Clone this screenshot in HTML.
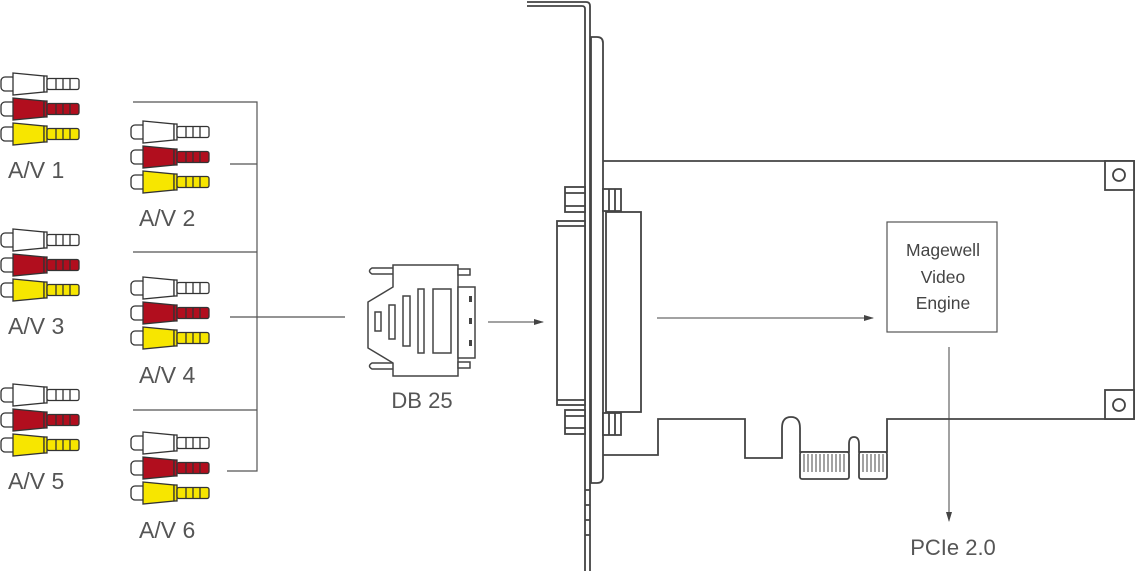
<!DOCTYPE html>
<html><head><meta charset="utf-8"><style>
html,body{margin:0;padding:0;background:#fff;}
svg{display:block;font-family:"Liberation Sans",sans-serif;}
</style></head><body>
<svg width="1135" height="571" viewBox="0 0 1135 571" xmlns="http://www.w3.org/2000/svg">
<defs>
<g id="plug" stroke="#333" stroke-width="1.3">
 <rect x="1" y="-7" width="15" height="14" rx="4" fill="#fff"/>
 <polygon points="13,-11 44,-8 44,8 13,11"/>
 <rect x="44" y="-8" width="3" height="16"/>
 <rect x="47" y="-5.5" width="32" height="11" rx="2"/>
 <path d="M56,-5.5V5.5M63,-5.5V5.5M70,-5.5V5.5" fill="none"/>
</g>
<g id="trio">
 <use href="#plug" y="0" fill="#fff"/>
 <use href="#plug" y="25" fill="#b10e1e"/>
 <use href="#plug" y="50" fill="#f7e600"/>
</g>
<marker id="ah" markerWidth="10" markerHeight="8" refX="9" refY="4" orient="auto" markerUnits="userSpaceOnUse"><path d="M0,1 L10,4 L0,7z" fill="#444"/></marker>
</defs>

<use href="#trio" x="0" y="84"/>
<use href="#trio" x="0" y="240"/>
<use href="#trio" x="0" y="395"/>
<use href="#trio" x="130" y="132"/>
<use href="#trio" x="130" y="288"/>
<use href="#trio" x="130" y="443"/>

<g fill="#555" font-size="23">
<text x="8" y="178">A/V 1</text>
<text x="8" y="334">A/V 3</text>
<text x="8" y="489">A/V 5</text>
<text x="139" y="226">A/V 2</text>
<text x="139" y="383">A/V 4</text>
<text x="139" y="538">A/V 6</text>
</g>

<g stroke="#555" stroke-width="1.2" fill="none">
<path d="M133,102H257V471H227"/>
<path d="M133,252H257"/>
<path d="M133,410H257"/>
<path d="M230,164H257"/>
<path d="M230,317H345"/>
</g>

<g stroke="#444" stroke-width="1.5" fill="#fff">
<path d="M393,265H458V376H393V363L368,348V302L393,287Z"/>
<path d="M393,268H372q-5,3 0,6H393M393,363H372q-5,3 0,6H393" fill="none"/>
<rect x="458" y="269" width="12" height="6"/><rect x="458" y="362" width="12" height="6"/>
<rect x="458" y="287" width="17" height="71"/>
<rect x="375" y="312" width="6" height="19"/>
<rect x="389" y="305" width="6" height="34"/>
<rect x="403" y="296" width="7" height="50"/>
<rect x="418" y="289" width="6" height="64"/>
<rect x="433" y="289" width="18" height="64"/>
</g>
<g fill="#444"><rect x="469" y="296" width="3" height="6"/><rect x="469" y="318" width="3" height="6"/><rect x="469" y="340" width="3" height="6"/></g>
<text x="422" y="408" font-size="22" fill="#555" text-anchor="middle">DB 25</text>
<path d="M488,322H543" stroke="#444" stroke-width="1" marker-end="url(#ah)"/>

<g stroke="#444" stroke-width="1.8" fill="#fff">
<path d="M527,2H586q4,0 4,4V571" fill="none"/>
<path d="M527,6H582q3,0 3,3V571" fill="none"/>
<path d="M591,37H597q6,0 6,6V477q0,6 -6,6H591Z"/>
<path d="M585,490H590M585,505H590M585,520H590M585,535H590" fill="none"/>
<rect x="565" y="187" width="20" height="25"/><path d="M565,193H585M565,206H585"/>
<rect x="565" y="410" width="20" height="24"/><path d="M565,416H585M565,428H585"/>
<rect x="557" y="221" width="28" height="184"/><path d="M557,226H585M557,400H585"/>
<path d="M603,161H1134V419H887V452H859V444q0,-7 -5,-7q-5,0 -5,7V452H800V428q0,-11 -9,-11q-9,0 -9,11V458H745V419H658V455H603" fill="none"/>
<rect x="603" y="189" width="18" height="22"/><path d="M609,189V211M615,189V211"/>
<rect x="603" y="413" width="18" height="22"/><path d="M609,413V435M615,413V435"/>
<rect x="606" y="212" width="35" height="200"/>
<rect x="800" y="452" width="49" height="27" rx="2"/>
<rect x="859" y="452" width="28" height="27" rx="2"/>
<rect x="1105" y="161" width="29" height="29"/><circle cx="1119" cy="175" r="6"/>
<rect x="1105" y="390" width="29" height="29"/><circle cx="1119" cy="405" r="6"/>
</g>
<g stroke="#444" stroke-width="1">
<path d="M804,454V472M808,454V472M812,454V472M816,454V472M820,454V472M824,454V472M828,454V472M832,454V472M836,454V472M840,454V472M844,454V472M863,454V472M867,454V472M871,454V472M875,454V472M879,454V472M883,454V472"/>
</g>

<rect x="887" y="222" width="110" height="110" fill="#fff" stroke="#555" stroke-width="1.2"/>
<g font-size="17.5" fill="#444" text-anchor="middle">
<text x="943" y="256">Magewell</text>
<text x="943" y="283">Video</text>
<text x="943" y="309">Engine</text>
</g>
<path d="M657,318H873" stroke="#444" stroke-width="1" marker-end="url(#ah)"/>
<path d="M949,347V521" stroke="#444" stroke-width="1" marker-end="url(#ah)"/>
<text x="953" y="555" font-size="22" fill="#555" text-anchor="middle">PCIe 2.0</text>
</svg>
</body></html>
